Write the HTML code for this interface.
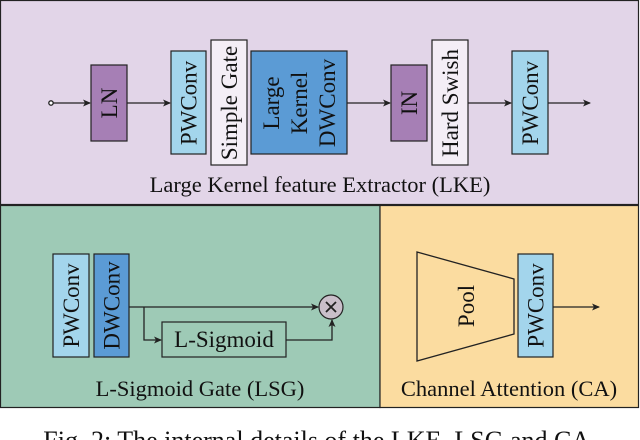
<!DOCTYPE html>
<html><head><meta charset="utf-8"><style>
html,body{margin:0;padding:0;background:#fff;overflow:hidden}
svg{display:block}
text{font-family:"Liberation Serif",serif;fill:#111}
</style></head><body>
<svg width="640" height="440" viewBox="0 0 640 440" xmlns="http://www.w3.org/2000/svg">
<defs>
<marker id="a" markerWidth="8" markerHeight="8" refX="7" refY="4" orient="auto" markerUnits="userSpaceOnUse">
<path d="M0,0.5 L8,4 L0,7.5 L2,4 Z" fill="#222"/></marker>
</defs>
<rect x="0.5" y="0.5" width="638" height="204" fill="#e2d5e8" stroke="#222" stroke-width="1.2"/>
<rect x="0.5" y="205.5" width="379.5" height="202" fill="#9ecab6" stroke="#222" stroke-width="1.2"/>
<rect x="380" y="205.5" width="258.5" height="202" fill="#fbdca0" stroke="#222" stroke-width="1.2"/>

<g stroke="#222" stroke-width="1.3" fill="none">
<circle cx="51" cy="103" r="2.2" fill="#fff"/>
<line x1="53" y1="103" x2="90" y2="103" marker-end="url(#a)"/>
<line x1="127" y1="103" x2="170" y2="103" marker-end="url(#a)"/>
<line x1="347" y1="103" x2="390" y2="103" marker-end="url(#a)"/>
<line x1="468" y1="103" x2="511" y2="103" marker-end="url(#a)"/>
<line x1="548" y1="103" x2="590" y2="103" marker-end="url(#a)"/>
</g>
<g stroke="#222" stroke-width="1.2">
<rect x="91" y="65" width="36" height="76" fill="#a67fb5"/>
<rect x="171" y="51" width="35" height="103" fill="#a3d5ec"/>
<rect x="211" y="40" width="36" height="125" fill="#f4eef6"/>
<rect x="251" y="51" width="96" height="103" fill="#5b9bd5"/>
<rect x="391" y="65" width="36" height="76" fill="#a67fb5"/>
<rect x="432" y="40" width="36" height="125" fill="#f4eef6"/>
<rect x="512" y="51" width="36" height="103" fill="#a3d5ec"/>
</g>
<g font-size="23" text-anchor="middle">
<text transform="translate(109,103) rotate(-90)" dy="8">LN</text>
<text transform="translate(188.5,103) rotate(-90)" dy="8">PWConv</text>
<text transform="translate(229,103) rotate(-90)" dy="8">Simple Gate</text>
<text transform="translate(299,103) rotate(-90)" dy="-20">Large</text>
<text transform="translate(299,103) rotate(-90)" dy="8">Kernel</text>
<text transform="translate(299,103) rotate(-90)" dy="36">DWConv</text>
<text transform="translate(409,103) rotate(-90)" dy="8">IN</text>
<text transform="translate(450,103) rotate(-90)" dy="8">Hard Swish</text>
<text transform="translate(530,103) rotate(-90)" dy="8">PWConv</text>
</g>
<text x="320" y="192" font-size="22.5" text-anchor="middle">Large Kernel feature Extractor (LKE)</text>

<g stroke="#222" stroke-width="1.2">
<rect x="53" y="254" width="36" height="103" fill="#a3d5ec"/>
<rect x="94" y="254" width="35" height="103" fill="#5b9bd5"/>
<rect x="162" y="322" width="124" height="35" fill="#9ecab6"/>
<circle cx="331" cy="307" r="12" fill="#c9bfca"/>
<path d="M326,302 L336,312 M336,302 L326,312" stroke-width="1.8"/>
</g>
<g stroke="#222" stroke-width="1.3" fill="none">
<line x1="129" y1="307" x2="318" y2="307" marker-end="url(#a)"/>
<polyline points="144,307 144,340 161,340" marker-end="url(#a)"/>
<polyline points="286,340 332,340 332,320" marker-end="url(#a)"/>
</g>
<g font-size="23" text-anchor="middle">
<text transform="translate(71,305.5) rotate(-90)" dy="8">PWConv</text>
<text transform="translate(111.5,305.5) rotate(-90)" dy="8">DWConv</text>
<text x="224" y="347">L-Sigmoid</text>
<text x="200" y="396" font-size="22.5">L-Sigmoid Gate (LSG)</text>
</g>

<polygon points="417,252 514,279 514,334 417,361" fill="none" stroke="#222" stroke-width="1.3"/>
<rect x="518" y="254" width="35" height="103" fill="#a3d5ec" stroke="#222" stroke-width="1.2"/>
<line x1="553" y1="307" x2="599" y2="307" stroke="#222" stroke-width="1.3" marker-end="url(#a)"/>
<g font-size="23" text-anchor="middle">
<text transform="translate(466,306) rotate(-90)" dy="8">Pool</text>
<text transform="translate(535.5,305.5) rotate(-90)" dy="8">PWConv</text>
<text x="509" y="396" font-size="22.5">Channel Attention (CA)</text>
</g>

<text x="320" y="449" font-size="26" text-anchor="middle">Fig. 2: The internal details of the LKE, LSG and CA.</text>
</svg>
</body></html>
